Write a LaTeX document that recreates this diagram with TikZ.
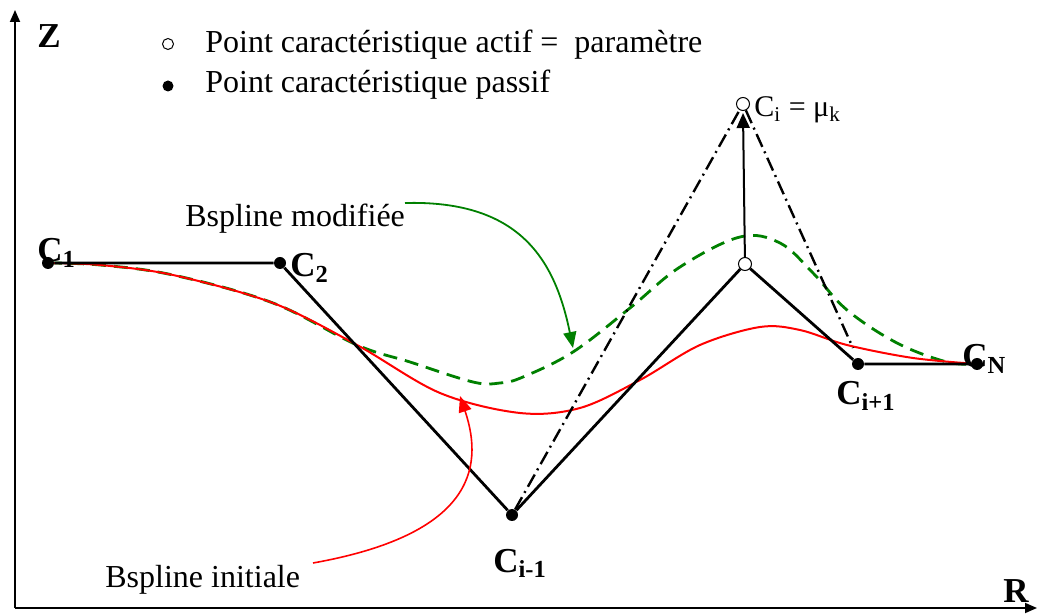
\documentclass[tikz,border=0pt]{standalone}
\usepackage{fontspec}
\setmainfont{Liberation Serif}
\usetikzlibrary{arrows.meta}
\definecolor{ink}{HTML}{000000}
\definecolor{bsred}{HTML}{FF0000}
\definecolor{bsgreen}{HTML}{008000}
\tikzset{
  pas/.style={circle,fill=ink,inner sep=0pt,minimum size=6pt},
  act/.style={circle,draw=ink,fill=white,line width=0.5pt,inner sep=0pt,minimum size=6.5pt},
  poly/.style={line width=1.4pt,color=ink,line join=round},
  chain/.style={line width=1.2pt,color=ink,dash pattern=on 7pt off 2.5pt on 1pt off 2.5pt},
  axis/.style={-{Triangle[length=6pt,width=5pt]},line width=0.9pt,color=ink},
  lift/.style={-{Triangle[length=7.5pt,width=6.5pt]},line width=1pt,color=ink},
  arr/.style={-{Triangle[length=8pt,width=6.5pt]},line width=0.9pt},
  clbl/.style={font=\fontsize{17.5}{20}\selectfont\bfseries,anchor=base west,inner sep=0pt},
  txt/.style={font=\fontsize{16}{19}\selectfont,anchor=base west,inner sep=0pt}}

\begin{document}
\begin{tikzpicture}[x=0.5pt,y=-0.5pt]
\useasboundingbox (0,0) rectangle (1039,614);
% axes
\coordinate (o) at (15,608);
\coordinate (ztop) at (15,10);
\coordinate (rend) at (1037,608);
\draw[axis] (o) -- (ztop);
\draw[axis] (o) -- (rend);
\node[clbl] (zl) at (37,48) {Z};
\node[clbl] (rl) at (1003,602) {R};
% legend
\node[act,minimum size=5.5pt] (lgo) at (168,44) {};
\node[txt] (lga) at (205,53) {Point caractéristique actif = \ paramètre};
\node[pas,minimum size=5.5pt] (lgp) at (168,86) {};
\node[txt] (lgb) at (205,93) {Point caractéristique passif};
% bsplines
\draw[bsgreen,line width=1.4pt,dash pattern=on 7pt off 4pt] plot[smooth,tension=0.6] coordinates {(48,263) (100,265) (173,275) (273,303) (357,345) (410,362) (473,382) (500,383) (523,377) (573,352) (630,308) (680,267) (740,237) (780,243) (813,273) (847,310) (897,343) (947,362) (977,364)};
\draw[bsred,line width=1pt] plot[smooth,tension=0.55] coordinates {(48,263) (100,265) (173,275) (273,303) (357,345) (440,393) (520,413) (580,408) (640,380) (700,345) (760,327) (800,330) (847,345) (913,358) (977,364)};
% control points
\node[pas] (c1) at (48,263) {};
\node[pas] (c2) at (280,263) {};
\node[pas] (cm) at (512,515) {};
\node[act] (ci) at (745,264) {};
\node[pas] (cp) at (858,364) {};
\node[pas] (cn) at (977,364) {};
\node[act] (mu) at (743,104) {};
\coordinate (cend) at (853,348);
\draw[poly] (c1) -- (c2) -- (cm) -- (ci) -- (cp) -- (cn);
\draw[chain] (cm) -- (mu) -- (cend);
\draw[lift] (ci) -- ([yshift=-1pt]mu.south);
\node[clbl] (l1) at (37,262) {C\textsubscript{1}};
\node[clbl] (l2) at (290,277) {C\textsubscript{2}};
\node[clbl] (lm) at (493,572) {C\textsubscript{i-1}};
\node[clbl] (lp) at (836,405) {C\textsubscript{i+1}};
\node[clbl] (ln) at (962,368) {C\textsubscript{N}};
\node[txt,font=\fontsize{15}{18}\selectfont] (lmu) at (754,117) {C\textsubscript{i} = μ\textsubscript{k}};
% callouts
\node[txt] (lmod) at (185,227) {Bspline modifiée};
\node[txt] (lini) at (105,587) {Bspline initiale};
\coordinate (gs) at (405,203);
\coordinate (ge) at (573,348);
\coordinate (rs) at (313,563);
\coordinate (re) at (460,396);
\draw[arr,bsgreen] (gs) .. controls (520,200) and (555,260) .. (ge);
\draw[arr,bsred,line width=0.8pt] (rs) .. controls (470,535) and (485,470) .. (re);
\end{tikzpicture}
\end{document}
